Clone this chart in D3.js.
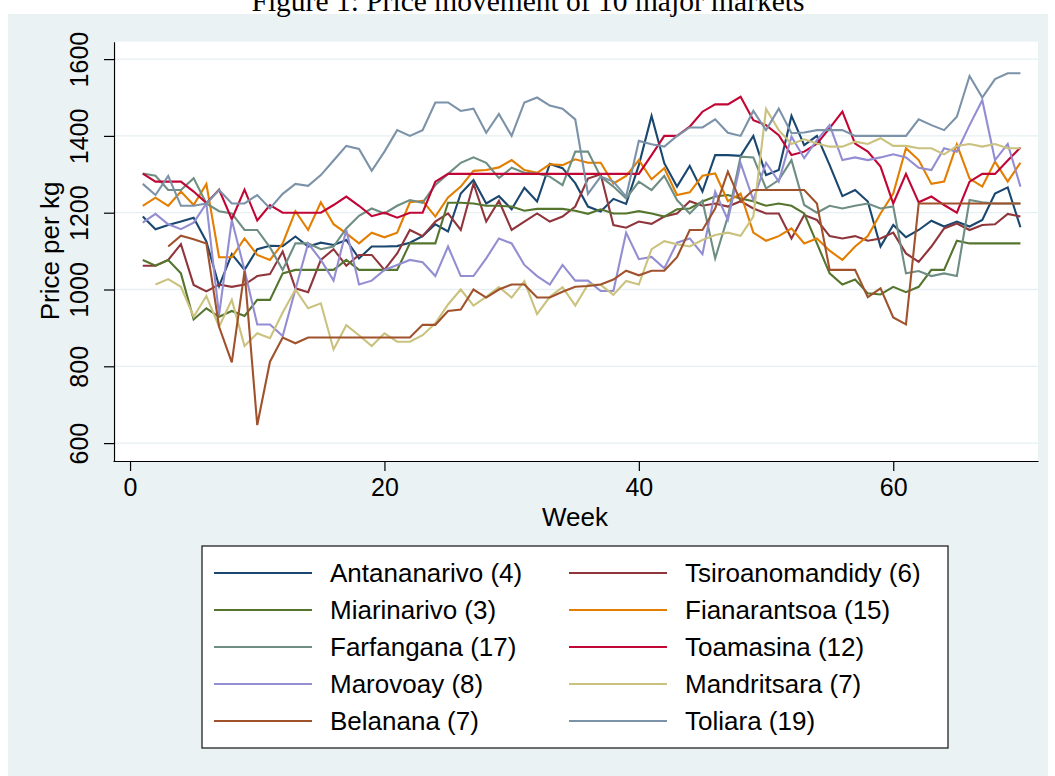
<!DOCTYPE html>
<html>
<head>
<meta charset="utf-8">
<script src="https://cdn.jsdelivr.net/npm/d3@7"></script>
<style>
  html, body { margin: 0; padding: 0; background: #ffffff; }
  svg { display: block; }
</style>
</head>
<body>
<svg id="chart" width="1055" height="776"></svg>
<script>
// ---------------- data ----------------
const weeks = d3.range(1, 71); // weeks 1..70

const antananarivo = [1190,1157,1168,1177,1187,1125,1009,1092,1051,1105,1114,1113,1138,1112,1122,1116,1129,1081,1112,1112,1113,1122,1139,1170,1151,1250,1285,1224,1243,1209,1265,1229,1327,1316,1277,1216,1203,1236,1223,1324,1452,1329,1268,1322,1255,1350,1350,1348,1400,1298,1311,1452,1376,1400,1324,1243,1259,1229,1112,1168,1136,1155,1179,1164,1177,1164,1181,1250,1266,1162];
const tsiroanomandidy = [1062,1062,1077,1118,1012,995,1013,1007,1013,1035,1040,1099,1003,993,1077,1105,1062,1090,1090,1051,1094,1155,1139,1177,1198,1155,1276,1177,1231,1155,1177,1198,1177,1190,1216,1289,1300,1168,1161,1177,1171,1190,1198,1230,1218,1224,1216,1230,1211,1198,1198,1133,1194,1181,1139,1133,1139,1127,1133,1148,1094,1072,1112,1159,1172,1155,1168,1170,1197,1190];
const miarinarivo = [1077,1062,1077,1042,922,951,929,944,931,973,973,1042,1051,1051,1051,1051,1077,1051,1051,1051,1051,1120,1120,1120,1226,1226,1224,1218,1218,1216,1205,1210,1210,1210,1205,1197,1209,1198,1198,1204,1198,1190,1209,1211,1229,1242,1246,1237,1230,1218,1224,1218,1198,1120,1042,1013,1026,990,987,1007,993,1007,1051,1051,1127,1120,1120,1120,1120,1120];
const fianarantsoa = [1218,1239,1218,1255,1220,1275,1084,1084,1133,1090,1077,1120,1204,1155,1227,1170,1146,1120,1148,1136,1148,1227,1231,1190,1240,1268,1309,1311,1318,1337,1311,1304,1326,1324,1339,1330,1330,1276,1296,1337,1287,1316,1246,1253,1296,1302,1230,1250,1148,1127,1139,1159,1120,1133,1101,1077,1112,1139,1198,1250,1368,1337,1275,1281,1378,1289,1268,1333,1281,1330];
const farfangana = [1302,1296,1259,1259,1290,1224,1204,1198,1155,1155,1110,1051,1120,1120,1105,1112,1159,1192,1211,1198,1218,1233,1226,1272,1301,1330,1344,1330,1290,1317,1304,1302,1294,1272,1359,1359,1294,1268,1237,1281,1259,1296,1233,1198,1231,1081,1190,1346,1344,1263,1285,1337,1220,1200,1218,1211,1218,1224,1211,1216,1042,1048,1035,1042,1035,1233,1227,1224,1224,1224];
const toamasina = [1302,1281,1281,1281,1255,1225,1260,1183,1260,1180,1220,1200,1200,1200,1200,1220,1242,1218,1191,1200,1187,1200,1200,1281,1301,1301,1301,1301,1301,1301,1301,1301,1301,1301,1301,1301,1301,1301,1301,1301,1350,1400,1400,1424,1463,1482,1482,1502,1441,1428,1402,1350,1359,1380,1420,1463,1380,1359,1320,1224,1301,1227,1242,1220,1200,1281,1301,1301,1336,1370];
const marovoay = [1174,1197,1170,1157,1174,1224,934,1181,1051,909,909,879,1000,1120,1077,1023,1155,1013,1023,1051,1064,1077,1071,1035,1112,1035,1035,1081,1133,1120,1064,1035,1013,1064,1023,1023,996,996,1148,1079,1085,1055,1122,1133,1092,1255,1181,1329,1233,1330,1281,1398,1342,1389,1428,1337,1344,1337,1344,1352,1344,1317,1311,1368,1359,1428,1493,1337,1379,1268];
const mandritsara = [null,1013,1027,1007,929,983,903,973,853,886,873,940,1000,951,964,844,907,881,853,886,864,864,881,912,961,1000,958,981,1006,979,1022,936,981,1006,958,1013,1012,986,1022,1013,1105,1126,1118,1112,1129,1142,1148,1140,1190,1470,1415,1379,1391,1380,1372,1372,1385,1379,1394,1374,1374,1368,1368,1352,1374,1379,1372,1379,1368,1368];
const belanana = [null,null,1112,1140,1131,1120,903,810,1048,647,812,875,860,875,875,875,875,875,875,875,875,875,908,908,944,948,1000,979,1000,1013,1013,979,979,994,1007,1009,1013,1026,1049,1037,1049,1049,1084,1155,1155,1211,1307,1229,1259,1259,1259,1259,1259,1224,1051,1051,1051,980,1003,927,909,1224,1224,1224,1224,1224,1224,1224,1224,1224];
const toliara = [1275,1246,1296,1218,1218,1224,1259,1224,1224,1246,1211,1249,1275,1270,1298,1336,1374,1366,1309,1359,1415,1400,1415,1487,1487,1465,1471,1408,1457,1400,1487,1500,1479,1471,1443,1249,1294,1281,1242,1387,1378,1372,1400,1422,1422,1443,1408,1400,1465,1415,1471,1407,1409,1415,1415,1415,1400,1400,1400,1400,1400,1443,1428,1415,1450,1556,1500,1548,1563,1563];

const seriesNames = ["Antananarivo (4)","Tsiroanomandidy (6)","Miarinarivo (3)","Fianarantsoa (15)","Farfangana (17)","Toamasina (12)","Marovoay (8)","Mandritsara (7)","Belanana (7)","Toliara (19)"];
const seriesValues = [antananarivo, tsiroanomandidy, miarinarivo, fianarantsoa, farfangana, toamasina, marovoay, mandritsara, belanana, toliara];
const seriesColors = ["#1a476f","#90353b","#55752f","#e37e00","#6e8e84","#c10534","#938dd2","#cac27e","#a0522d","#7b92a8"];

const yTicks = [600, 800, 1000, 1200, 1400, 1600];
const xTicks = [0, 20, 40, 60];
const titleText = "Figure 1: Price movement of 10 major markets";
const xTitle = "Week";
const yTitle = "Price per kg";

// ---------------- layout ----------------
const svg = d3.select("#chart");
const plot = { left: 113, right: 1038, top: 41.7, bottom: 461 };

svg.append("rect").attr("x", 0).attr("y", 0).attr("width", 1055).attr("height", 776).attr("fill", "#ffffff");
svg.append("rect").attr("x", 8).attr("y", 14).attr("width", 1040).attr("height", 762).attr("fill", "#eaf2f3");

svg.append("text")
  .attr("x", 528).attr("y", 11)
  .attr("text-anchor", "middle")
  .attr("font-family", "'Liberation Serif', 'Times New Roman', serif")
  .attr("font-size", 29.5)
  .attr("fill", "#000")
  .text(titleText);

svg.append("rect")
  .attr("x", plot.left).attr("y", plot.top)
  .attr("width", plot.right - plot.left).attr("height", plot.bottom - plot.top)
  .attr("fill", "#ffffff");

const x = d3.scaleLinear().domain([-1.34, 71.38]).range([plot.left, plot.right]);
const y = d3.scaleLinear().domain([553.4, 1645.3]).range([plot.bottom, plot.top]);

// gridlines
svg.append("g").selectAll("line").data(yTicks).join("line")
  .attr("x1", plot.left).attr("x2", plot.right)
  .attr("y1", d => y(d)).attr("y2", d => y(d))
  .attr("stroke", "#e6eff1").attr("stroke-width", 1.3);

const font = "'Liberation Sans', Arial, Helvetica, sans-serif";

// y axis
const yAxis = svg.append("g").attr("transform", `translate(114,0)`)
  .call(d3.axisLeft(y).tickValues(yTicks).tickSize(10).tickSizeOuter(0).tickFormat(d3.format("d")));
yAxis.select(".domain").attr("stroke", "#000").attr("stroke-width", 1.2);
yAxis.selectAll(".tick line").attr("stroke", "#000").attr("stroke-width", 1.2);
yAxis.selectAll(".tick text")
  .attr("transform", "rotate(-90)")
  .attr("x", 0).attr("y", -26).attr("dy", 0)
  .attr("text-anchor", "middle")
  .attr("font-family", font).attr("font-size", 25).attr("fill", "#000");

// x axis
const xAxis = svg.append("g").attr("transform", `translate(0,${plot.bottom})`)
  .call(d3.axisBottom(x).tickValues(xTicks).tickSize(10).tickSizeOuter(0).tickPadding(7).tickFormat(d3.format("d")));
xAxis.select(".domain").attr("stroke", "#000").attr("stroke-width", 1.2);
xAxis.selectAll(".tick line").attr("stroke", "#000").attr("stroke-width", 1.2);
xAxis.selectAll(".tick text").attr("font-family", font).attr("font-size", 25).attr("fill", "#000");

// axis titles
svg.append("text")
  .attr("transform", "translate(59,251) rotate(-90)")
  .attr("text-anchor", "middle")
  .attr("font-family", font).attr("font-size", 26).attr("fill", "#000")
  .text(yTitle);
svg.append("text")
  .attr("x", 575).attr("y", 526)
  .attr("text-anchor", "middle")
  .attr("font-family", font).attr("font-size", 26).attr("fill", "#000")
  .text(xTitle);

// lines
const line = d3.line()
  .defined(d => d.v != null)
  .x(d => x(d.w))
  .y(d => y(d.v));

const plotG = svg.append("g");
seriesValues.forEach((vals, i) => {
  const pts = weeks.map((w, j) => ({ w: w, v: vals[j] }));
  plotG.append("path")
    .datum(pts)
    .attr("d", line)
    .attr("fill", "none")
    .attr("stroke", seriesColors[i])
    .attr("stroke-width", 2.1)
    .attr("stroke-linejoin", "miter");
});

// legend
const legend = svg.append("g");
legend.append("rect")
  .attr("x", 202).attr("y", 546).attr("width", 746).attr("height", 202)
  .attr("fill", "#ffffff").attr("stroke", "#222").attr("stroke-width", 1.3);

seriesNames.forEach((name, i) => {
  const col = i % 2, row = Math.floor(i / 2);
  const cy = 573 + row * 37;
  const lx = col === 0 ? 214 : 569;
  const tx = col === 0 ? 330 : 685;
  legend.append("line")
    .attr("x1", lx).attr("x2", lx + 98)
    .attr("y1", cy).attr("y2", cy)
    .attr("stroke", seriesColors[i]).attr("stroke-width", 2.1);
  legend.append("text")
    .attr("x", tx).attr("y", cy).attr("dy", "0.35em")
    .attr("font-family", font).attr("font-size", 26).attr("fill", "#000")
    .text(name);
});
</script>
</body>
</html>
